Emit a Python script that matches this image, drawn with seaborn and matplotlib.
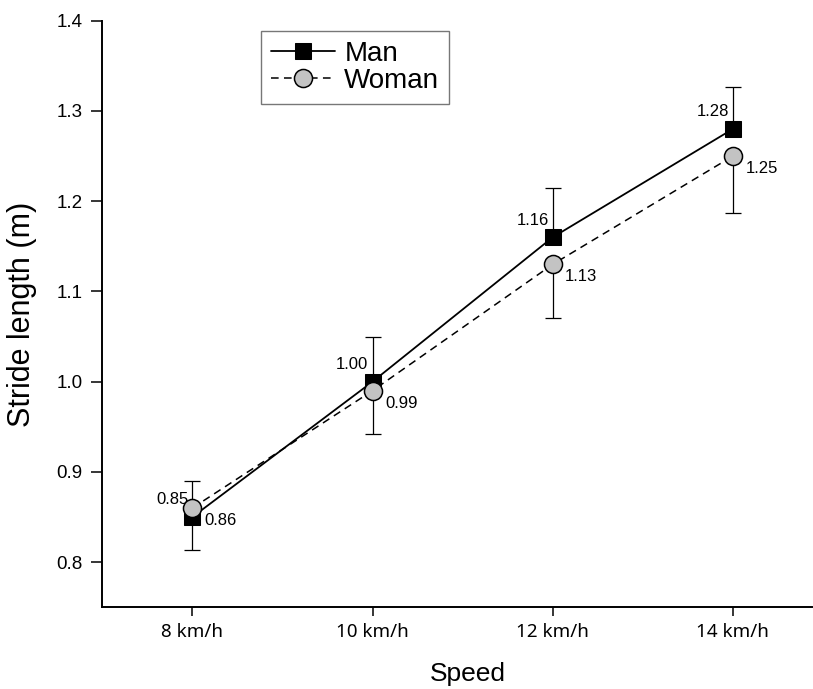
import numpy as np
import pandas as pd
import seaborn as sns
import matplotlib.pyplot as plt

speeds = ["8 km/h", "10 km/h", "12 km/h", "14 km/h"]
man = [0.85, 1.00, 1.16, 1.28]
woman = [0.86, 0.99, 1.13, 1.25]
man_err_up = [0.04, 0.05, 0.055, 0.047]
woman_err_down = [0.047, 0.048, 0.059, 0.063]
yticks = [0.8, 0.9, 1.0, 1.1, 1.2, 1.3, 1.4]

sns.set_style("ticks", {"text.color": "black", "axes.labelcolor": "black",
                        "xtick.color": "black", "ytick.color": "black",
                        "axes.edgecolor": "black"})
plt.rcParams["font.family"] = ["Liberation Sans", "DejaVu Sans"]

df = pd.DataFrame({
    "Speed": speeds * 2,
    "Stride": man + woman,
    "Sex": ["Man"] * 4 + ["Woman"] * 4,
})

fig = plt.figure(figsize=(8.13, 6.89), dpi=100)
ax = fig.add_axes([0.1258, 0.1186, 0.8732, 0.8514])

x = np.arange(len(speeds))

# one-sided error bars: up for men, down for women
ax.errorbar(x, man, yerr=[np.zeros(4), man_err_up], fmt="none",
            ecolor="black", elinewidth=0.9, capsize=6, capthick=0.9, zorder=2)
ax.errorbar(x, woman, yerr=[woman_err_down, np.zeros(4)], fmt="none",
            ecolor="black", elinewidth=0.9, capsize=6, capthick=0.9, zorder=2)

sns.lineplot(data=df[df.Sex == "Man"], x="Speed", y="Stride", ax=ax,
             color="black", lw=1.3, marker="s", markersize=11.5,
             markerfacecolor="black", markeredgecolor="black",
             label="Man", zorder=3)
sns.lineplot(data=df[df.Sex == "Woman"], x="Speed", y="Stride", ax=ax,
             color="black", lw=1.1, linestyle=(0, (5, 3.5)), marker="o",
             markersize=13, markerfacecolor="#c3c3c3",
             markeredgecolor="black", markeredgewidth=1.1,
             label="Woman", zorder=4)

for i in range(len(speeds)):
    ax.annotate(f"{man[i]:.2f}", (x[i], man[i]), xytext=(-3, 7),
                textcoords="offset points", ha="right", va="bottom", fontsize=12)
    ax.annotate(f"{woman[i]:.2f}", (x[i], woman[i]), xytext=(9, -9),
                textcoords="offset points", ha="left", va="center", fontsize=12)

ax.set_xlim(-0.5, 3.44)
ax.set_ylim(0.75, 1.4)
ax.set_yticks(yticks)
ax.set_yticklabels([f"{t:.1f}" for t in yticks])
ax.set_xticks(x)
ax.set_xticklabels(speeds, family=["Noto Sans", "DejaVu Sans"])
ax.tick_params(axis="y", labelsize=13.5, length=8, width=1.1, pad=6)
ax.tick_params(axis="x", labelsize=13.5, length=6.5, width=1.1, pad=5)
for s in ["left", "bottom"]:
    ax.spines[s].set_linewidth(1.4)
sns.despine(ax=ax)

ax.set_xlabel("Speed", fontsize=19)
ax.set_ylabel("Stride length (m)", fontsize=22)
ax.xaxis.set_label_coords(0.515, -0.093)
ax.yaxis.set_label_coords(-0.092, 0.5)

leg = ax.legend(loc="upper left", bbox_to_anchor=(0.2236, 0.9824), fontsize=20,
                frameon=True, fancybox=False, edgecolor="#555555",
                handlelength=2.3, handletextpad=0.35, borderpad=0.35,
                labelspacing=0.05, borderaxespad=0)
leg.get_frame().set_linewidth(1.0)

fig.savefig("out.png", dpi=100)
